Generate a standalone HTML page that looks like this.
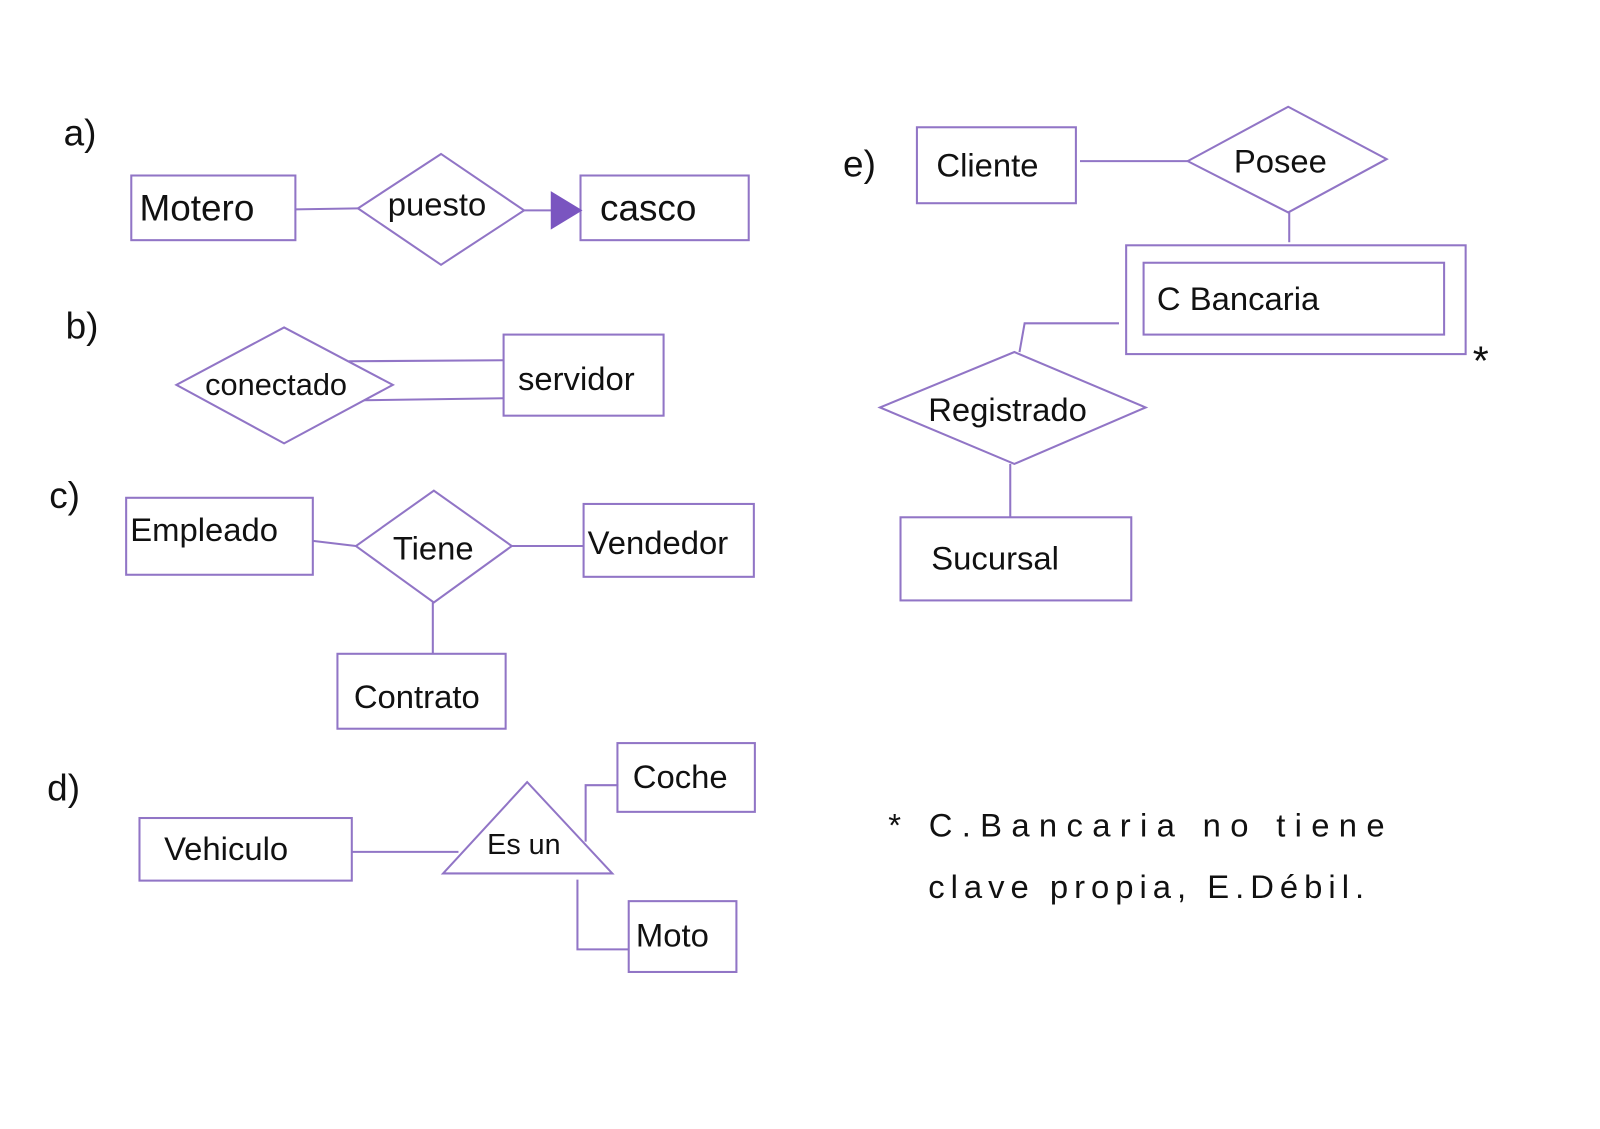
<!DOCTYPE html>
<html><head><meta charset="utf-8"><style>
html,body{margin:0;padding:0;background:#fff;}
svg{display:block;}
text{font-family:"Liberation Sans",sans-serif;fill:#111;}
</style></head><body>
<svg width="1600" height="1129" viewBox="0 0 1560 1100" preserveAspectRatio="none" xmlns="http://www.w3.org/2000/svg">
<g fill="none" stroke="#9175c6" stroke-width="2">
<rect x="128" y="171" width="160" height="63"/>
<line x1="288" y1="204" x2="349" y2="203"/>
<polygon points="349,203 430,150 511,205 430,258"/>
<line x1="511" y1="205" x2="540" y2="205"/>
<rect x="566" y="171" width="164" height="63"/>
<polygon points="172,375 277,319 383,375 277,432"/>
<line x1="340" y1="352" x2="491" y2="351"/>
<line x1="355" y1="390" x2="491" y2="388"/>
<rect x="491" y="326" width="156" height="79"/>
<rect x="123" y="485" width="182" height="75"/>
<line x1="305" y1="527" x2="347" y2="532"/>
<polygon points="347,532 423,478 499,532 423,587"/>
<line x1="499" y1="532" x2="569" y2="532"/>
<rect x="569" y="491" width="166" height="71"/>
<line x1="422" y1="587" x2="422" y2="637"/>
<rect x="329" y="637" width="164" height="73"/>
<rect x="136" y="797" width="207" height="61"/>
<line x1="343" y1="830" x2="447" y2="830"/>
<polygon points="514,762 432,851 597,851"/>
<polyline points="571,820 571,765 603,765"/>
<rect x="602" y="724" width="134" height="67"/>
<polyline points="563,857 563,925 613,925"/>
<rect x="613" y="878" width="105" height="69"/>
<rect x="894" y="124" width="155" height="74"/>
<line x1="1053" y1="157" x2="1158" y2="157"/>
<polygon points="1158,157 1256,104 1352,155 1256,207"/>
<line x1="1257" y1="207" x2="1257" y2="236"/>
<rect x="1098" y="239" width="331" height="106"/>
<rect x="1115" y="256" width="293" height="70"/>
<polyline points="1091,315 999,315 994,343"/>
<polygon points="858,397 989,343 1117,397 989,452"/>
<line x1="985" y1="452" x2="985" y2="504"/>
<rect x="878" y="504" width="225" height="81"/>
</g>
<polygon points="538,188 538,222 566,205" fill="#7a55c0" stroke="#7a55c0" stroke-width="2"/>
<g font-size="36">
<text x="62" y="142">a)</text>
<text x="64" y="330">b)</text>
<text x="48" y="495">c)</text>
<text x="46" y="780">d)</text>
<text x="822" y="172">e)</text>
<text x="136" y="215">Motero</text>
<text x="378" y="210" font-size="32">puesto</text>
<text x="585" y="215">casco</text>
<text x="200" y="385" font-size="30">conectado</text>
<text x="505" y="380" font-size="32">servidor</text>
<text x="127" y="527" font-size="32">Empleado</text>
<text x="383" y="545" font-size="32">Tiene</text>
<text x="573" y="540" font-size="32">Vendedor</text>
<text x="345" y="690" font-size="32">Contrato</text>
<text x="160" y="838" font-size="32">Vehiculo</text>
<text x="475" y="832" font-size="28">Es un</text>
<text x="617" y="768" font-size="32">Coche</text>
<text x="620" y="922" font-size="32">Moto</text>
<text x="913" y="172" font-size="32">Cliente</text>
<text x="1203" y="168" font-size="32">Posee</text>
<text x="1128" y="302" font-size="32">C Bancaria</text>
<text x="905" y="410" font-size="32">Registrado</text>
<text x="908" y="555" font-size="32">Sucursal</text>
<text x="1436" y="365" font-size="40">*</text>
<text x="866" y="815" font-size="32" textLength="484" lengthAdjust="spacing">* C.Bancaria   no  tiene</text>
<text x="905" y="875" font-size="32" textLength="425" lengthAdjust="spacing">clave  propia, E.Débil.</text>
</g>
</svg>
</body></html>
